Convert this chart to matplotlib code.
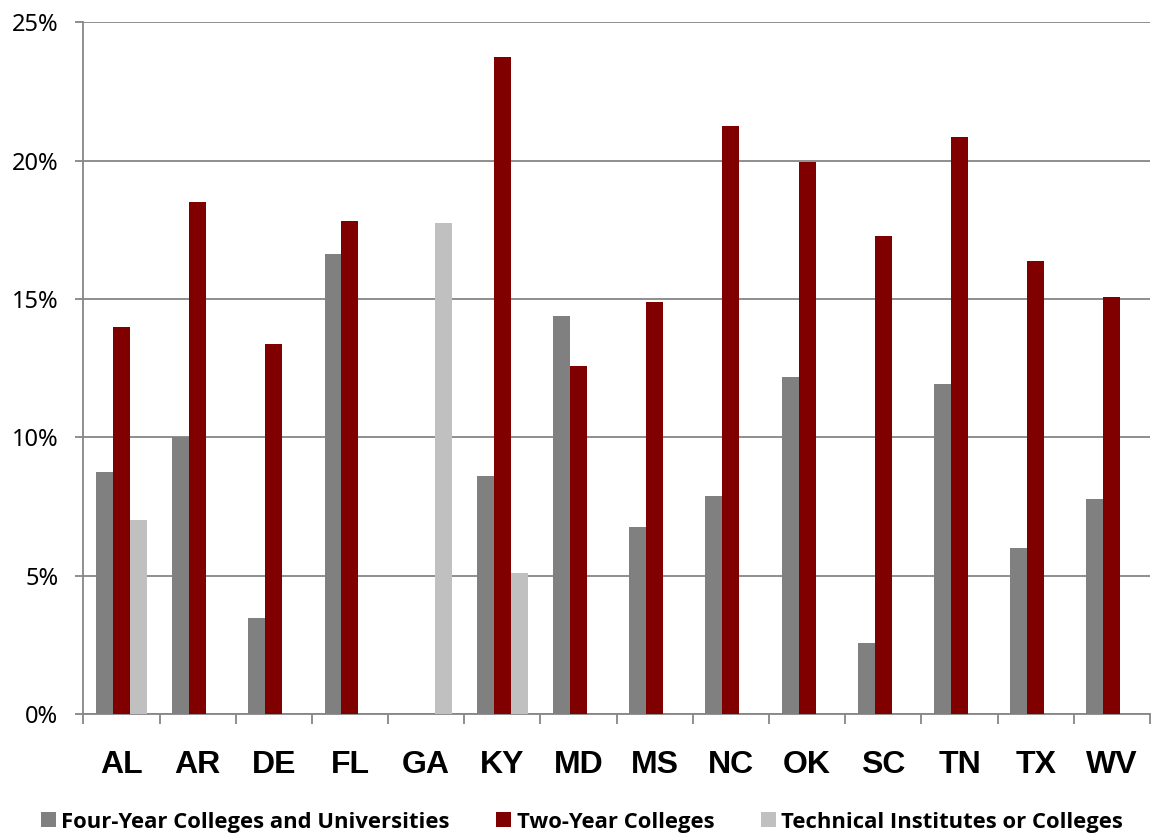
import numpy as np
import matplotlib.pyplot as plt
from matplotlib.patches import Patch
from matplotlib.ticker import FuncFormatter

states = ["AL", "AR", "DE", "FL", "GA", "KY", "MD", "MS", "NC", "OK", "SC", "TN", "TX", "WV"]
four_year = [8.75, 10.0, 3.48, 16.64, 0, 8.62, 14.40, 6.78, 7.90, 12.19, 2.57, 11.92, 6.01, 7.78]
two_year = [14.0, 18.49, 13.39, 17.82, 0, 23.73, 12.57, 14.89, 21.24, 19.94, 17.26, 20.86, 16.38, 15.08]
technical = [7.02, 0, 0, 0, 17.75, 5.12, 0, 0, 0, 0, 0, 0, 0, 0]
series_names = ["Four-Year Colleges and Universities", "Two-Year Colleges",
                "Technical Institutes or Colleges"]
colors = ["#808080", "#800000", "#C0C0C0"]

fig = plt.figure(figsize=(11.57, 8.34), dpi=100)
ax = fig.add_axes([0.072, 0.1435, 0.922, 0.83])

x = np.arange(len(states))
w = 0.223
for i, vals in enumerate([four_year, two_year, technical]):
    ax.bar(x + (i - 1) * w, vals, width=w, color=colors[i], zorder=3)

ax.set_xlim(-0.5, len(states) - 0.5)
ax.set_ylim(0, 25)
ax.set_yticks([0, 5, 10, 15, 20, 25])
ax.yaxis.set_major_formatter(FuncFormatter(lambda v, p: f"{v:.0f}%"))
ax.grid(axis="y", color="#868686", linewidth=1.3, zorder=0)

ax.set_xticks(x)
ax.set_xticklabels(states, fontfamily="Liberation Sans", fontweight="bold", fontsize=23)
ax.set_xticks(np.arange(len(states) + 1) - 0.5, minor=True)
ax.tick_params(axis="x", which="major", length=0, pad=26)
ax.tick_params(axis="x", which="minor", length=7, width=1.3, color="#868686", direction="out")
ax.tick_params(axis="y", length=6, width=1.3, color="#868686", pad=12)
for lab in ax.get_yticklabels():
    lab.set_fontfamily("Noto Sans")
    lab.set_fontsize(17)

for s in ["top", "right"]:
    ax.spines[s].set_visible(False)
for s in ["left", "bottom"]:
    ax.spines[s].set_color("#868686")
    ax.spines[s].set_linewidth(1.3)

handles = [Patch(facecolor=c, edgecolor="none") for c in colors]
fig.legend(handles, series_names, loc="lower center", bbox_to_anchor=(0.503, -0.022),
           ncol=3, frameon=False, handlelength=0.68, handleheight=0.68, handletextpad=0.27,
           columnspacing=2.1, prop={"family": "Open Sans", "weight": "bold", "size": 15.8})

fig.savefig("out.png", dpi=100)
